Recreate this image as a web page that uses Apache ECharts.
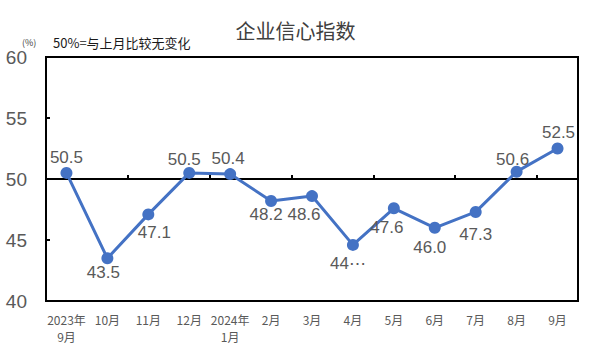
<!DOCTYPE html>
<html>
<head>
<meta charset="utf-8">
<script src="https://cdn.jsdelivr.net/npm/echarts@6/dist/echarts.min.js"></script>
<style>
  html, body { margin: 0; padding: 0; background: #fff; }
  #main { width: 591px; height: 354px; }
</style>
</head>
<body>
<div id="main"></div>
<script>
// months shown on the x axis
const months = ["2023年\n9月", "10月", "11月", "12月", "2024年\n1月", "2月", "3月", "4月", "5月", "6月", "7月", "8月", "9月"];
// business confidence index (%)
const confidence = [50.5, 43.5, 47.1, 50.5, 50.4, 48.2, 48.6, 44.6, 47.6, 46.0, 47.3, 50.6, 52.5];
const yTicks = [40, 45, 50, 55, 60];

// hand placed labels, like the original
const labelPos = ["top", "bottom", "bottom", "top", "top", "bottom", "bottom", "bottom", "bottom", "bottom", "bottom", "top", "top"];
const labelOff = [[0, -1], [-4, 0], [6, 4], [-5, 1], [-2, -1], [-5, -1], [-8, 4], [-5, 4], [-7, 5], [-5, 5], [0, 8], [-4, 2], [1, -2]];

const chart = echarts.init(document.getElementById("main"), null, { renderer: "svg" });

const seriesData = confidence.map((v, i) => ({
  value: v,
  label: { position: labelPos[i], offset: labelOff[i] }
}));

chart.setOption({
  animation: false,
  title: {
    text: "企业信心指数",
    left: "center",
    top: 15,
    textStyle: { fontSize: 20, fontWeight: "normal", color: "#404040", fontFamily: "Noto Sans CJK SC" }
  },
  graphic: [
    { type: "text", left: 22, top: 38, style: { text: "(%)", fontSize: 9, fill: "#404040", fontFamily: "Noto Sans CJK SC" } },
    { type: "text", left: 53, top: 36, style: { text: "50%=与上月比较无变化", fontSize: 13, fill: "#1a1a1a", fontFamily: "Noto Sans CJK SC" } }
  ],
  grid: { left: 46, right: 13, top: 57, bottom: 53, show: true, borderColor: "#000", borderWidth: 2 },
  xAxis: [
    {
      type: "category",
      data: months,
      axisLine: { lineStyle: { color: "#000", width: 2 } },
      axisTick: { show: false },
      axisLabel: { interval: 0, color: "#595959", fontSize: 12, margin: 10, lineHeight: 17, fontFamily: "Noto Sans CJK SC" }
    },
    {
      type: "category",
      data: months,
      position: "bottom",
      offset: -122,
      axisLine: { lineStyle: { color: "#000", width: 2 } },
      axisTick: { show: true, inside: true, length: 4, lineStyle: { color: "#000", width: 2 } },
      axisLabel: { show: false }
    }
  ],
  yAxis: {
    type: "value",
    min: yTicks[0],
    max: yTicks[yTicks.length - 1],
    interval: 5,
    axisLine: { show: true, lineStyle: { color: "#000", width: 2 } },
    axisTick: { show: true, inside: true, length: 4, lineStyle: { color: "#000", width: 2 } },
    splitLine: { show: false },
    axisLabel: { color: "#595959", fontSize: 19, margin: 19, fontFamily: "Liberation Sans" }
  },
  series: [
    {
      type: "line",
      xAxisIndex: 0,
      data: seriesData,
      symbol: "circle",
      symbolSize: 12,
      lineStyle: { color: "#4472C4", width: 3 },
      itemStyle: { color: "#4472C4" },
      label: {
        show: true,
        distance: 0,
        fontSize: 17,
        color: "#595959",
        fontFamily: "Liberation Sans",
        formatter: p => (p.dataIndex === 7 ? "44\u22EF" : p.value.toFixed(1))
      },
      z: 5
    }
  ]
});
</script>
</body>
</html>
